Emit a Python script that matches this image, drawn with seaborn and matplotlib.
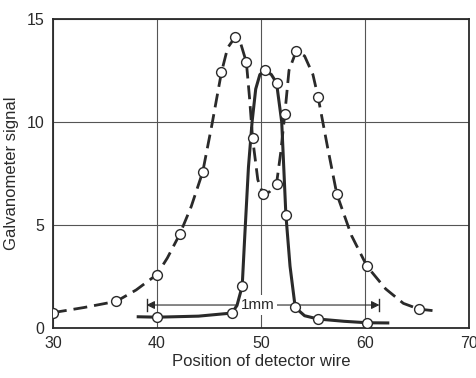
import numpy as np
import pandas as pd
import seaborn as sns
import matplotlib.pyplot as plt

# measured points (open circles)
dash_x = [30.0, 36.1, 40.0, 42.2, 44.4, 46.2, 47.5, 48.6, 49.2, 50.2, 51.5, 52.3, 53.4, 55.5, 57.3, 60.2, 65.2]
dash_y = [0.75, 1.3, 2.6, 4.56, 7.57, 12.4, 14.1, 12.9, 9.2, 6.5, 7.0, 10.4, 13.45, 11.2, 6.5, 3.0, 0.92]
solid_x = [40.0, 47.2, 48.2, 50.4, 51.5, 52.4, 53.3, 55.5, 60.2]
solid_y = [0.53, 0.73, 2.04, 12.5, 11.9, 5.5, 1.0, 0.44, 0.26]

# traced curves
dash_cx = [30.0, 33.0, 36.1, 38.0, 40.0, 41.0, 42.2, 43.3, 44.4, 45.3, 46.2, 46.8, 47.5, 48.0,
           48.6, 48.9, 49.2, 49.7, 50.2, 50.8, 51.5, 51.9, 52.3, 52.7, 53.4, 54.2, 55.0, 55.5,
           56.4, 57.3, 58.7, 60.2, 62.0, 63.7, 65.2, 66.5]
dash_cy = [0.75, 1.0, 1.3, 1.85, 2.6, 3.4, 4.56, 5.9, 7.57, 9.9, 12.4, 13.6, 14.1, 13.9,
           12.9, 11.2, 9.2, 7.2, 6.5, 6.6, 7.0, 8.5, 10.4, 12.5, 13.45, 13.2, 12.3, 11.2,
           8.8, 6.5, 4.5, 3.0, 1.9, 1.2, 0.92, 0.85]
solid_cx = [38.2, 40.0, 44.0, 47.2, 47.7, 48.2, 48.45, 48.8, 49.15, 49.5, 49.9, 50.4, 51.0, 51.5,
            52.0, 52.4, 52.8, 53.3, 54.2, 55.5, 58.0, 60.2, 62.2]
solid_cy = [0.55, 0.53, 0.58, 0.73, 1.1, 2.04, 4.5, 7.8, 10.0, 11.6, 12.3, 12.5, 12.3, 11.9,
            10.0, 5.5, 3.0, 1.0, 0.6, 0.44, 0.33, 0.26, 0.25]

xticks = [30, 40, 50, 60, 70]
yticks = [0, 5, 10, 15]
bar_start, bar_end, bar_y = 39.0, 61.4, 1.12

ink = "#2a2a2a"
plt.rcParams["font.family"] = ["Liberation Sans", "DejaVu Sans"]

fig = plt.figure(figsize=(4.77, 3.78), dpi=100)
ax = fig.add_axes([0.111, 0.132, 0.872, 0.818])

sns.lineplot(x=dash_cx, y=dash_cy, ax=ax, color=ink, lw=2.0, linestyle=(0, (5, 2.5)), zorder=2)
sns.lineplot(x=solid_cx, y=solid_cy, ax=ax, color=ink, lw=2.2, zorder=2)
sns.scatterplot(x=dash_x, y=dash_y, ax=ax, marker="o", s=50, facecolor="white",
                edgecolor=ink, linewidth=1.0, zorder=3)
sns.scatterplot(x=solid_x, y=solid_y, ax=ax, marker="o", s=50, facecolor="white",
                edgecolor=ink, linewidth=1.0, zorder=3)

# 1 mm scale bar
mid = (bar_start + bar_end) / 2
for end in (bar_start, bar_end):
    ax.annotate("", xy=(end, bar_y), xytext=(mid, bar_y),
                arrowprops=dict(arrowstyle="-|>", color=ink, lw=0.8, mutation_scale=12,
                                shrinkA=0, shrinkB=0), zorder=1)
    ax.plot([end, end], [bar_y - 0.3, bar_y + 0.3], color=ink, lw=1.0, zorder=1)
ax.text(mid - 0.5, bar_y, "1mm", ha="center", va="center", fontsize=11, color=ink,
        bbox=dict(facecolor="white", edgecolor="none", pad=2), zorder=1.5)

ax.set_xlim(30, 70)
ax.set_ylim(0, 15)
ax.set_xticks(xticks)
ax.set_yticks(yticks)
ax.tick_params(length=0, labelsize=11.5, colors=ink, pad=6)
ax.grid(True, color="#555555", lw=0.8)
ax.set_axisbelow(True)
for s in ax.spines.values():
    s.set_color(ink)
    s.set_linewidth(1.3)
ax.set_xlabel("Position of detector wire", fontsize=12, color=ink, labelpad=2)
ax.set_ylabel("Galvanometer signal", fontsize=12, color=ink, labelpad=6)

fig.savefig("out.png", dpi=100)
